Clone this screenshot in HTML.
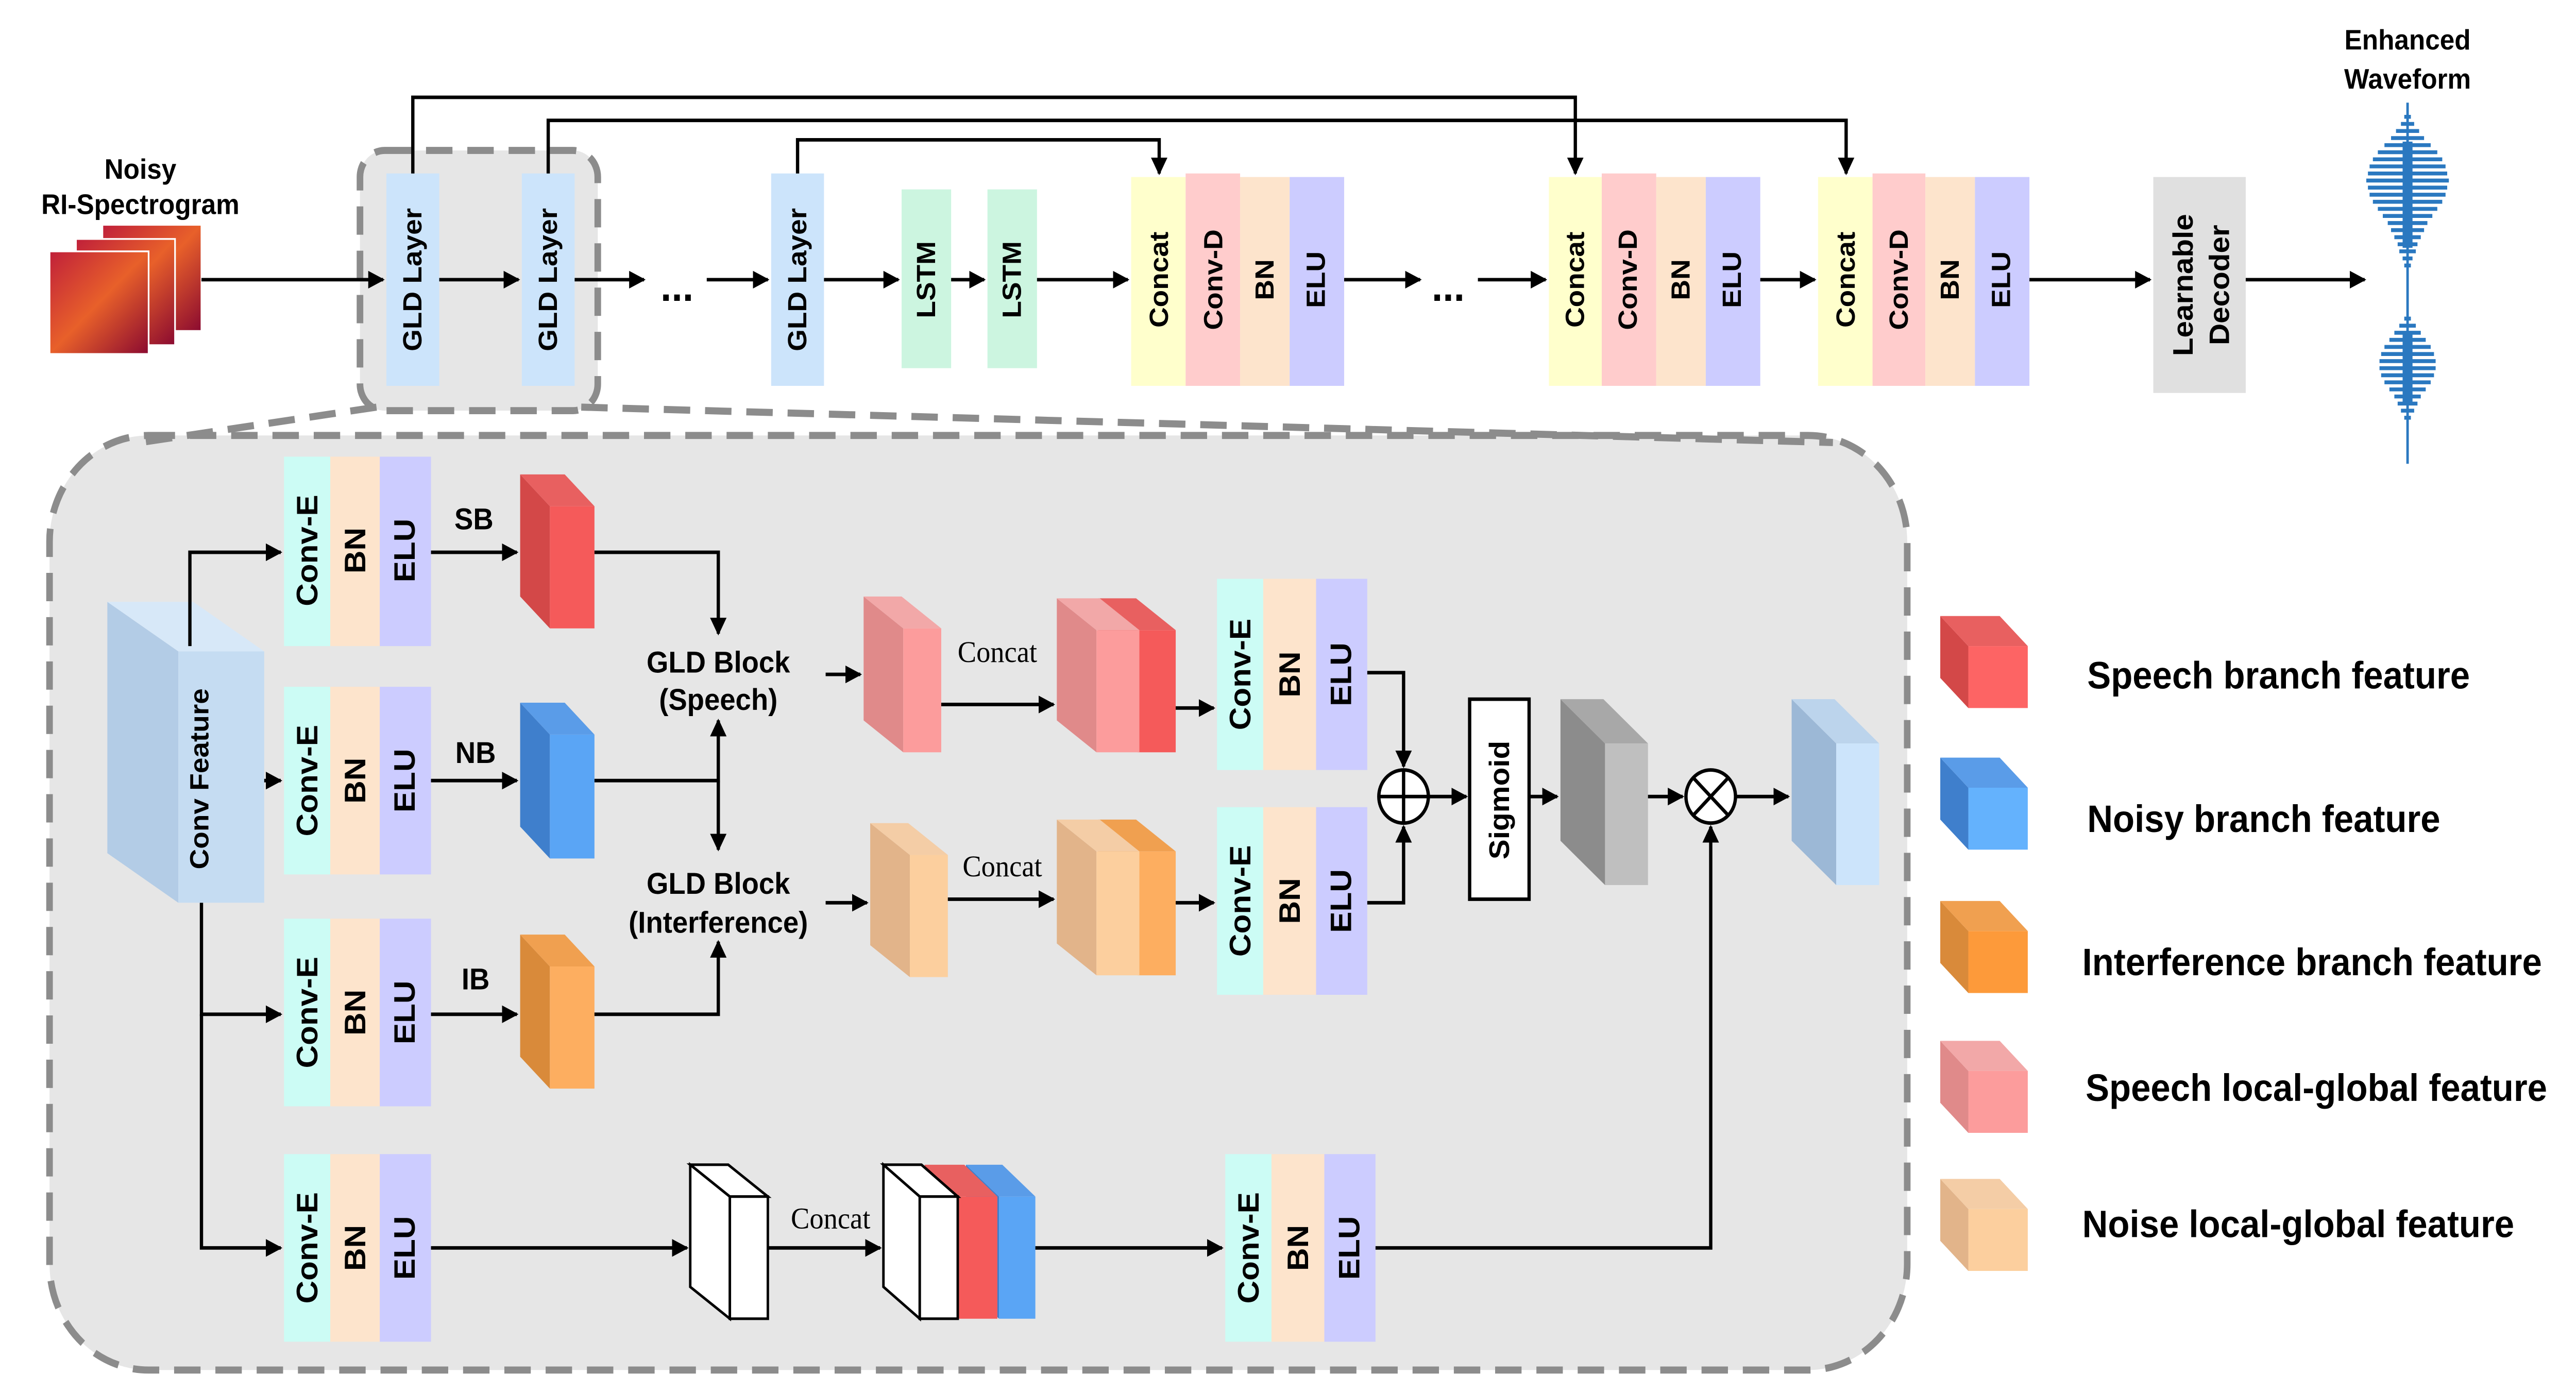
<!DOCTYPE html>
<html><head><meta charset="utf-8"><style>html,body{margin:0;padding:0;background:#fff;width:100%;height:100%;overflow:hidden}svg{display:block;width:100vw;height:100vh}text{font-family:"Liberation Sans",sans-serif;font-weight:bold;fill:#000}</style></head>
<body>
<svg viewBox="0 0 1560 786.4" preserveAspectRatio="none" xmlns="http://www.w3.org/2000/svg">
<defs>
<marker id="a" viewBox="0 0 10 10" refX="9" refY="5" markerWidth="5" markerHeight="5" orient="auto-start-reverse"><path d="M0,0 L10,5 L0,10 z" fill="#000"/></marker>
<linearGradient id="sp" x1="0" y1="0" x2="1" y2="1"><stop offset="0" stop-color="#c0203a"/><stop offset="0.5" stop-color="#e8602a"/><stop offset="1" stop-color="#8a0a30"/></linearGradient>
</defs>
<g stroke="#000" stroke-width="2" fill="none">
<rect x="62" y="127" width="60" height="60" fill="url(#sp)" stroke="#fff" stroke-width="1"/>
<rect x="46" y="135" width="60" height="60" fill="url(#sp)" stroke="#fff" stroke-width="1"/>
<rect x="30" y="142" width="60" height="58" fill="url(#sp)" stroke="#fff" stroke-width="1"/>
</g>
<text x="85" y="101" font-size="16" text-anchor="middle">Noisy</text>
<text x="85" y="121" font-size="16" text-anchor="middle">RI-Spectrogram</text>
<text x="1458" y="28" font-size="16" text-anchor="middle">Enhanced</text>
<text x="1458" y="50" font-size="16" text-anchor="middle">Waveform</text>

<rect x="30" y="246" width="1125" height="528" rx="60" fill="#e6e6e6" stroke="#8c8c8c" stroke-width="4" stroke-dasharray="16,9"/>
<rect x="218" y="85" width="144" height="147" rx="15" fill="#e6e6e6" stroke="#8c8c8c" stroke-width="4" stroke-dasharray="16,9"/>
<line x1="228" y1="230" x2="85" y2="250" stroke="#8c8c8c" stroke-width="4" stroke-dasharray="16,9"/>
<line x1="352" y1="230" x2="1110" y2="250" stroke="#8c8c8c" stroke-width="4" stroke-dasharray="16,9"/>

<g font-size="16">
<rect x="234" y="98" width="32" height="120" fill="#cce4fb"/>
<text transform="translate(250,158) rotate(-90)" text-anchor="middle" dominant-baseline="central">GLD Layer</text>
<rect x="316" y="98" width="32" height="120" fill="#cce4fb"/>
<text transform="translate(332,158) rotate(-90)" text-anchor="middle" dominant-baseline="central">GLD Layer</text>
<rect x="467" y="98" width="32" height="120" fill="#cce4fb"/>
<text transform="translate(483,158) rotate(-90)" text-anchor="middle" dominant-baseline="central">GLD Layer</text>
<rect x="546" y="107" width="30" height="101" fill="#ccf5e0"/>
<text transform="translate(561,158) rotate(-90)" text-anchor="middle" dominant-baseline="central">LSTM</text>
<rect x="598" y="107" width="30" height="101" fill="#ccf5e0"/>
<text transform="translate(613,158) rotate(-90)" text-anchor="middle" dominant-baseline="central">LSTM</text>

<rect x="685" y="100" width="33" height="118" fill="#ffffcc"/><rect x="718" y="98" width="33" height="120" fill="#ffcccc"/><rect x="751" y="100" width="30" height="118" fill="#fde4cc"/><rect x="781" y="100" width="33" height="118" fill="#ccccff"/>
<text transform="translate(702,158) rotate(-90)" text-anchor="middle" dominant-baseline="central">Concat</text>
<text transform="translate(735,158) rotate(-90)" text-anchor="middle" dominant-baseline="central">Conv-D</text>
<text transform="translate(766,158) rotate(-90)" text-anchor="middle" dominant-baseline="central">BN</text>
<text transform="translate(797,158) rotate(-90)" text-anchor="middle" dominant-baseline="central">ELU</text>

<rect x="938" y="100" width="32" height="118" fill="#ffffcc"/><rect x="970" y="98" width="33" height="120" fill="#ffcccc"/><rect x="1003" y="100" width="30" height="118" fill="#fde4cc"/><rect x="1033" y="100" width="33" height="118" fill="#ccccff"/>
<text transform="translate(954,158) rotate(-90)" text-anchor="middle" dominant-baseline="central">Concat</text>
<text transform="translate(986,158) rotate(-90)" text-anchor="middle" dominant-baseline="central">Conv-D</text>
<text transform="translate(1018,158) rotate(-90)" text-anchor="middle" dominant-baseline="central">BN</text>
<text transform="translate(1049,158) rotate(-90)" text-anchor="middle" dominant-baseline="central">ELU</text>

<rect x="1101" y="100" width="33" height="118" fill="#ffffcc"/><rect x="1134" y="98" width="32" height="120" fill="#ffcccc"/><rect x="1166" y="100" width="30" height="118" fill="#fde4cc"/><rect x="1196" y="100" width="33" height="118" fill="#ccccff"/>
<text transform="translate(1118,158) rotate(-90)" text-anchor="middle" dominant-baseline="central">Concat</text>
<text transform="translate(1150,158) rotate(-90)" text-anchor="middle" dominant-baseline="central">Conv-D</text>
<text transform="translate(1181,158) rotate(-90)" text-anchor="middle" dominant-baseline="central">BN</text>
<text transform="translate(1212,158) rotate(-90)" text-anchor="middle" dominant-baseline="central">ELU</text>

<rect x="1304" y="100" width="56" height="122" fill="#e0e0e0"/>
<text transform="translate(1322,161) rotate(-90)" text-anchor="middle" dominant-baseline="central" font-size="17">Learnable</text>
<text transform="translate(1344,161) rotate(-90)" text-anchor="middle" dominant-baseline="central" font-size="17">Decoder</text>
</g>
<text x="410" y="170" font-size="24" text-anchor="middle">...</text>
<text x="877" y="170" font-size="24" text-anchor="middle">...</text>

<g stroke="#000" stroke-width="2" fill="none" marker-end="url(#a)">
<line x1="122" y1="158" x2="232" y2="158"/>
<line x1="266" y1="158" x2="314" y2="158"/>
<line x1="348" y1="158" x2="390" y2="158"/>
<line x1="428" y1="158" x2="465" y2="158"/>
<line x1="499" y1="158" x2="544" y2="158"/>
<line x1="576" y1="158" x2="596" y2="158"/>
<line x1="628" y1="158" x2="683" y2="158"/>
<line x1="814" y1="158" x2="860" y2="158"/>
<line x1="895" y1="158" x2="936" y2="158"/>
<line x1="1066" y1="158" x2="1099" y2="158"/>
<line x1="1229" y1="158" x2="1302" y2="158"/>
<line x1="1360" y1="158" x2="1432" y2="158"/>
<polyline points="250,98 250,55 954,55 954,98"/>
<polyline points="332,98 332,68 1118,68 1118,98"/>
<polyline points="483,98 483,79 702,79 702,98"/>
</g>

<g stroke="#2a78c0" fill="none">
<line x1="1458" y1="58" x2="1458" y2="262" stroke-width="1.5"/>
<line x1="1458" y1="80" x2="1458" y2="140" stroke-width="6"/>
<line x1="1458" y1="188" x2="1458" y2="228" stroke-width="6"/>
<g stroke-width="2.2">
<path d="M1456,66h4 M1454,70h8 M1451,74h14 M1448,78h20 M1444,82h28 M1440,86h36 M1437,90h42 M1435,94h46 M1434,98h48 M1433,102h50 M1434,106h48 M1435,110h46 M1437,114h42 M1440,118h36 M1443,122h30 M1446,126h24 M1448,130h20 M1450,134h16 M1452,138h12 M1453,142h10 M1455,146h6 M1456,150h4"/>
<path d="M1456,180h4 M1453,184h10 M1450,188h16 M1447,192h22 M1444,196h28 M1442,200h32 M1441,204h34 M1441,208h34 M1442,212h32 M1444,216h28 M1447,220h22 M1450,224h16 M1452,228h12 M1454,232h8 M1456,236h4"/>
</g>
</g>

<polygon points="65,340 108,368 108,510 65,482" fill="#b3cce6"/>
<polygon points="65,340 117,340 160,368 108,368" fill="#d7e8f8"/>
<rect x="108" y="368" width="52" height="142" fill="#c5dcf2"/>
<text transform="translate(121,440) rotate(-90)" text-anchor="middle" dominant-baseline="central" font-size="16">Conv Feature</text>

<g font-size="18">
<rect x="172" y="258" width="28" height="107" fill="#ccfcf5"/><rect x="200" y="258" width="30" height="107" fill="#fde4cc"/><rect x="230" y="258" width="31" height="107" fill="#ccccff"/>
<text transform="translate(186,311) rotate(-90)" text-anchor="middle" dominant-baseline="central">Conv-E</text><text transform="translate(215,311) rotate(-90)" text-anchor="middle" dominant-baseline="central">BN</text><text transform="translate(245,311) rotate(-90)" text-anchor="middle" dominant-baseline="central">ELU</text>
<rect x="172" y="388" width="28" height="106" fill="#ccfcf5"/><rect x="200" y="388" width="30" height="106" fill="#fde4cc"/><rect x="230" y="388" width="31" height="106" fill="#ccccff"/>
<text transform="translate(186,441) rotate(-90)" text-anchor="middle" dominant-baseline="central">Conv-E</text><text transform="translate(215,441) rotate(-90)" text-anchor="middle" dominant-baseline="central">BN</text><text transform="translate(245,441) rotate(-90)" text-anchor="middle" dominant-baseline="central">ELU</text>
<rect x="172" y="519" width="28" height="106" fill="#ccfcf5"/><rect x="200" y="519" width="30" height="106" fill="#fde4cc"/><rect x="230" y="519" width="31" height="106" fill="#ccccff"/>
<text transform="translate(186,572) rotate(-90)" text-anchor="middle" dominant-baseline="central">Conv-E</text><text transform="translate(215,572) rotate(-90)" text-anchor="middle" dominant-baseline="central">BN</text><text transform="translate(245,572) rotate(-90)" text-anchor="middle" dominant-baseline="central">ELU</text>
<rect x="172" y="652" width="28" height="106" fill="#ccfcf5"/><rect x="200" y="652" width="30" height="106" fill="#fde4cc"/><rect x="230" y="652" width="31" height="106" fill="#ccccff"/>
<text transform="translate(186,705) rotate(-90)" text-anchor="middle" dominant-baseline="central">Conv-E</text><text transform="translate(215,705) rotate(-90)" text-anchor="middle" dominant-baseline="central">BN</text><text transform="translate(245,705) rotate(-90)" text-anchor="middle" dominant-baseline="central">ELU</text>

<rect x="737" y="327" width="28" height="108" fill="#ccfcf5"/><rect x="765" y="327" width="32" height="108" fill="#fde4cc"/><rect x="797" y="327" width="31" height="108" fill="#ccccff"/>
<text transform="translate(751,381) rotate(-90)" text-anchor="middle" dominant-baseline="central">Conv-E</text><text transform="translate(781,381) rotate(-90)" text-anchor="middle" dominant-baseline="central">BN</text><text transform="translate(812,381) rotate(-90)" text-anchor="middle" dominant-baseline="central">ELU</text>
<rect x="737" y="456" width="28" height="106" fill="#ccfcf5"/><rect x="765" y="456" width="32" height="106" fill="#fde4cc"/><rect x="797" y="456" width="31" height="106" fill="#ccccff"/>
<text transform="translate(751,509) rotate(-90)" text-anchor="middle" dominant-baseline="central">Conv-E</text><text transform="translate(781,509) rotate(-90)" text-anchor="middle" dominant-baseline="central">BN</text><text transform="translate(812,509) rotate(-90)" text-anchor="middle" dominant-baseline="central">ELU</text>
<rect x="742" y="652" width="28" height="106" fill="#ccfcf5"/><rect x="770" y="652" width="32" height="106" fill="#fde4cc"/><rect x="802" y="652" width="31" height="106" fill="#ccccff"/>
<text transform="translate(756,705) rotate(-90)" text-anchor="middle" dominant-baseline="central">Conv-E</text><text transform="translate(786,705) rotate(-90)" text-anchor="middle" dominant-baseline="central">BN</text><text transform="translate(817,705) rotate(-90)" text-anchor="middle" dominant-baseline="central">ELU</text>
</g>

<g font-size="17">
<text x="287" y="299" text-anchor="middle">SB</text>
<text x="288" y="431" text-anchor="middle">NB</text>
<text x="288" y="559" text-anchor="middle">IB</text>
<text x="435" y="380" text-anchor="middle">GLD Block</text>
<text x="435" y="401" text-anchor="middle">(Speech)</text>
<text x="435" y="505" text-anchor="middle">GLD Block</text>
<text x="435" y="527" text-anchor="middle">(Interference)</text>
</g>
<text x="604" y="374" text-anchor="middle" font-size="17" style="font-family:'Liberation Serif',serif;font-weight:normal">Concat</text>
<text x="607" y="495" text-anchor="middle" font-size="17" style="font-family:'Liberation Serif',serif;font-weight:normal">Concat</text>
<text x="503" y="694" text-anchor="middle" font-size="17" style="font-family:'Liberation Serif',serif;font-weight:normal">Concat</text>

<g><polygon points="315,268 333,286 333,355 315,337" fill="#d34848"/><polygon points="315,268 342,268 360,286 333,286" fill="#e86060"/><rect x="333" y="286" width="27" height="69" fill="#f55a5a"/></g>
<g><polygon points="315,397 333,415 333,485 315,467" fill="#3f7fcc"/><polygon points="315,397 342,397 360,415 333,415" fill="#5a9ce8"/><rect x="333" y="415" width="27" height="70" fill="#5aa5f5"/></g>
<g><polygon points="315,528 333,546 333,615 315,597" fill="#d98a3a"/><polygon points="315,528 342,528 360,546 333,546" fill="#f0a050"/><rect x="333" y="546" width="27" height="69" fill="#fdae60"/></g>
<g><polygon points="523,337 547,355 547,425 523,407" fill="#e08a8a"/><polygon points="523,337 546,337 570,355 547,355" fill="#f2a8a8"/><rect x="547" y="355" width="23" height="70" fill="#fc9c9c"/></g>
<g><polygon points="527,465 551,483 551,552 527,534" fill="#e2b48a"/><polygon points="527,465 550,465 574,483 551,483" fill="#f4cda6"/><rect x="551" y="483" width="23" height="69" fill="#fccf9e"/></g>
<g><polygon points="665,338 689,356 689,425 665,407" fill="#d34848"/><polygon points="665,338 688,338 712,356 689,356" fill="#e86060"/><rect x="689" y="356" width="23" height="69" fill="#f55a5a"/></g>
<g><polygon points="640,338 664,356 664,425 640,407" fill="#e08a8a"/><polygon points="640,338 666,338 690,356 664,356" fill="#f2a8a8"/><rect x="664" y="356" width="26" height="69" fill="#fc9c9c"/></g>
<g><polygon points="665,463 689,481 689,551 665,533" fill="#d98a3a"/><polygon points="665,463 688,463 712,481 689,481" fill="#f0a050"/><rect x="689" y="481" width="23" height="70" fill="#fdae60"/></g>
<g><polygon points="640,463 664,481 664,551 640,533" fill="#e2b48a"/><polygon points="640,463 666,463 690,481 664,481" fill="#f4cda6"/><rect x="664" y="481" width="26" height="70" fill="#fccf9e"/></g>
<g><polygon points="945,395 972,420 972,500 945,475" fill="#8c8c8c"/><polygon points="945,395 971,395 998,420 972,420" fill="#a8a8a8"/><rect x="972" y="420" width="26" height="80" fill="#bfbfbf"/></g>
<g><polygon points="1085,395 1112,420 1112,500 1085,475" fill="#9cb8d6"/><polygon points="1085,395 1111,395 1138,420 1112,420" fill="#bcd4ec"/><rect x="1112" y="420" width="26" height="80" fill="#cce4fb"/></g>
<g stroke="#000" stroke-width="1.5"><polygon points="418,658 442,676 442,745 418,727" fill="#fff"/><polygon points="418,658 441,658 465,676 442,676" fill="#fff"/><rect x="442" y="676" width="23" height="69" fill="#fff"/></g>
<g><polygon points="585,658 605,676 605,745 585,727" fill="#3f7fcc"/><polygon points="585,658 607,658 627,676 605,676" fill="#5a9ce8"/><rect x="605" y="676" width="22" height="69" fill="#5aa5f5"/></g>
<g><polygon points="560,658 580,676 580,745 560,727" fill="#d34848"/><polygon points="560,658 584,658 604,676 580,676" fill="#e86060"/><rect x="580" y="676" width="24" height="69" fill="#f55a5a"/></g>
<g stroke="#000" stroke-width="1.5"><polygon points="535,658 557,676 557,745 535,727" fill="#fff"/><polygon points="535,658 558,658 580,676 557,676" fill="#fff"/><rect x="557" y="676" width="23" height="69" fill="#fff"/></g>

<rect x="890" y="395" width="36" height="113" fill="#fff" stroke="#000" stroke-width="2"/>
<text transform="translate(908,452) rotate(-90)" text-anchor="middle" dominant-baseline="central" font-size="17">Sigmoid</text>
<circle cx="850" cy="450" r="15" fill="#fff" stroke="#000" stroke-width="2"/>
<path d="M835,450 H865 M850,435 V465" stroke="#000" stroke-width="2"/>
<circle cx="1036" cy="450" r="15" fill="#fff" stroke="#000" stroke-width="2"/>
<path d="M1025.4,439.4 L1046.6,460.6 M1046.6,439.4 L1025.4,460.6" stroke="#000" stroke-width="2"/>

<g stroke="#000" stroke-width="2" fill="none" marker-end="url(#a)">
<polyline points="115,365 115,312 170,312"/>
<line x1="160" y1="441" x2="170" y2="441"/>
<polyline points="122,510 122,573 170,573"/>
<polyline points="122,573 122,705 170,705"/>
<line x1="261" y1="312" x2="313" y2="312"/>
<line x1="261" y1="441" x2="313" y2="441"/>
<line x1="261" y1="573" x2="313" y2="573"/>
<polyline points="360,312 435,312 435,358"/>
<polyline points="360,441 435,441 435,407"/>
<polyline points="435,441 435,480"/>
<polyline points="360,573 435,573 435,532"/>
<line x1="500" y1="381" x2="521" y2="381"/>
<line x1="500" y1="510" x2="525" y2="510"/>
<line x1="570" y1="398" x2="638" y2="398"/>
<line x1="574" y1="508" x2="638" y2="508"/>
<line x1="712" y1="400" x2="735" y2="400"/>
<line x1="712" y1="510" x2="735" y2="510"/>
<polyline points="828,380 850,380 850,433"/>
<polyline points="828,510 850,510 850,467"/>
<line x1="865" y1="450" x2="888" y2="450"/>
<line x1="926" y1="450" x2="943" y2="450"/>
<line x1="998" y1="450" x2="1019" y2="450"/>
<line x1="1051" y1="450" x2="1083" y2="450"/>
<line x1="261" y1="705" x2="416" y2="705"/>
<line x1="465" y1="705" x2="533" y2="705"/>
<line x1="627" y1="705" x2="740" y2="705"/>
<polyline points="833,705 1036,705 1036,467"/>
</g>

<g><polygon points="1175,348 1192,365 1192,400 1175,383" fill="#d34848"/><polygon points="1175,348 1211,348 1228,365 1192,365" fill="#e86060"/><rect x="1192" y="365" width="36" height="35" fill="#fd6464"/></g>
<g><polygon points="1175,428 1192,445 1192,480 1175,463" fill="#3f7fcc"/><polygon points="1175,428 1211,428 1228,445 1192,445" fill="#5a9ce8"/><rect x="1192" y="445" width="36" height="35" fill="#64b2fd"/></g>
<g><polygon points="1175,509 1192,526 1192,561 1175,544" fill="#d98a3a"/><polygon points="1175,509 1211,509 1228,526 1192,526" fill="#f0a050"/><rect x="1192" y="526" width="36" height="35" fill="#fd9a3a"/></g>
<g><polygon points="1175,588 1192,605 1192,640 1175,623" fill="#e08a8a"/><polygon points="1175,588 1211,588 1228,605 1192,605" fill="#f2a8a8"/><rect x="1192" y="605" width="36" height="35" fill="#fc9c9c"/></g>
<g><polygon points="1175,666 1192,683 1192,718 1175,701" fill="#e2b48a"/><polygon points="1175,666 1211,666 1228,683 1192,683" fill="#f4cda6"/><rect x="1192" y="683" width="36" height="35" fill="#fccf9e"/></g>
<g font-size="21.5">
<text x="1264" y="389">Speech branch feature</text>
<text x="1264" y="470">Noisy branch feature</text>
<text x="1261" y="551">Interference branch feature</text>
<text x="1263" y="622">Speech local-global feature</text>
<text x="1261" y="699">Noise local-global feature</text>
</g>
</svg>
</body></html>
